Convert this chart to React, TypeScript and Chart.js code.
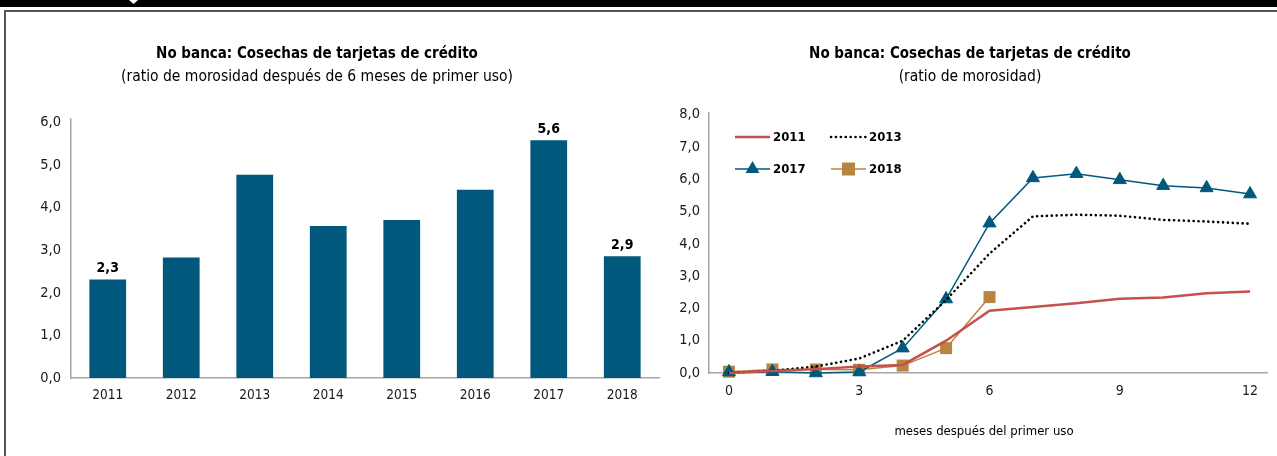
import React, { useEffect, useRef } from "react";
import { Chart, registerables } from "chart.js";

Chart.register(...registerables);

// ---------- data ----------
const barCategories = ["2011", "2012", "2013", "2014", "2015", "2016", "2017", "2018"];
const barValues = [2.31, 2.83, 4.77, 3.57, 3.71, 4.42, 5.58, 2.86];
const barLabelShown = [true, false, false, false, false, false, true, true];
const barYTicks = [0, 1, 2, 3, 4, 5, 6];

const months = [0, 1, 2, 3, 4, 5, 6, 7, 8, 9, 10, 11, 12];
const series2011 = [0.0, 0.06, 0.12, 0.2, 0.25, 1.0, 1.93, 2.04, 2.16, 2.3, 2.34, 2.47, 2.52];
const series2013 = [0.0, 0.07, 0.2, 0.45, 1.0, 2.26, 3.7, 4.85, 4.9, 4.87, 4.74, 4.69, 4.62];
const series2017 = [0.03, 0.04, 0.0, 0.03, 0.77, 2.29, 4.64, 6.04, 6.17, 5.98, 5.8, 5.73, 5.54];
const series2018 = [0.04, 0.11, 0.11, 0.1, 0.23, 0.77, 2.35];
const lineYTicks = [0, 1, 2, 3, 4, 5, 6, 7, 8];
const lineXTicks = [0, 3, 6, 9, 12];

const leftTitle = "No banca: Cosechas de tarjetas de crédito";
const leftSubtitle = "(ratio de morosidad después de 6 meses de primer uso)";
const rightTitle = "No banca: Cosechas de tarjetas de crédito";
const rightSubtitle = "(ratio de morosidad)";
const xAxisTitle = "meses después del primer uso";

// ---------- styles ----------
const FONT = "'DejaVu Sans Condensed', 'Liberation Sans Narrow', sans-serif";
const BLUE = "#00587c";
const RED = "#c4514d";
const GOLD = "#b8843f";
const AXIS = "#a6a6a6";
const TEXT = "#1a1a1a";

const fmt = (v: number) => v.toFixed(1).replace(".", ",");

const barLabelPlugin = {
  id: "barLabels",
  afterDatasetsDraw(chart: any) {
    const ctx = chart.ctx;
    const meta = chart.getDatasetMeta(0);
    ctx.save();
    ctx.font = `bold 14px ${FONT}`;
    ctx.fillStyle = "#000";
    ctx.textAlign = "center";
    ctx.textBaseline = "bottom";
    meta.data.forEach((el: any, i: number) => {
      if (!barLabelShown[i]) return;
      ctx.fillText(fmt(barValues[i]), el.x, el.y - 4);
    });
    ctx.restore();
  },
};

const legendLayout = [
  { col: 0, row: 0 },
  { col: 1, row: 0 },
  { col: 0, row: 1 },
  { col: 1, row: 1 },
];

const lineLegendPlugin = {
  id: "lineLegend",
  afterDraw(chart: any) {
    const ctx = chart.ctx;
    const area = chart.chartArea;
    ctx.save();
    chart.data.datasets.forEach((ds: any, i: number) => {
      const pos = legendLayout[i];
      const x0 = area.left + 26 + pos.col * 96;
      const x1 = x0 + 35;
      const y = area.top + 24 + pos.row * 32;
      ctx.beginPath();
      ctx.strokeStyle = ds.borderColor;
      ctx.lineWidth = ds.borderWidth;
      ctx.lineCap = ds.borderCapStyle || "butt";
      ctx.setLineDash(ds.borderDash || []);
      ctx.moveTo(x0, y);
      ctx.lineTo(x1, y);
      ctx.stroke();
      ctx.setLineDash([]);
      const cx = (x0 + x1) / 2;
      ctx.fillStyle = ds.pointBackgroundColor || ds.borderColor;
      if (ds.pointStyle === "triangle") {
        const r = 8;
        ctx.beginPath();
        ctx.moveTo(cx, y - r);
        ctx.lineTo(cx + r * 0.866, y + r / 2);
        ctx.lineTo(cx - r * 0.866, y + r / 2);
        ctx.closePath();
        ctx.fill();
      } else if (ds.pointStyle === "rect") {
        const s = 6.5;
        ctx.fillRect(cx - s, y - s, 2 * s, 2 * s);
      }
      ctx.font = `bold 13px ${FONT}`;
      ctx.fillStyle = "#000";
      ctx.textAlign = "left";
      ctx.textBaseline = "middle";
      ctx.fillText(ds.label, x1 + 3, y + 1);
    });
    ctx.restore();
  },
};

function BarChart() {
  const ref = useRef<HTMLCanvasElement>(null);
  useEffect(() => {
    const chart = new Chart(ref.current!, {
      type: "bar",
      data: {
        labels: barCategories,
        datasets: [
          {
            data: barValues,
            backgroundColor: BLUE,
            barPercentage: 0.5,
            categoryPercentage: 1.0,
          },
        ],
      },
      options: {
        animation: false,
        responsive: false,
        maintainAspectRatio: false,
        layout: { padding: { left: 31, right: 6, top: 119, bottom: 48 } },
        plugins: { legend: { display: false }, tooltip: { enabled: false }, title: { display: false } },
        scales: {
          x: {
            grid: { display: false, drawTicks: false },
            border: { color: AXIS, width: 1.5 },
            ticks: { color: TEXT, font: { size: 13.5, family: FONT }, padding: 9 },
            afterFit: (s: any) => {
              s.height = 30;
            },
          },
          y: {
            min: 0,
            max: 6.08,
            grid: { display: false, drawTicks: false },
            border: { color: AXIS, width: 1.5 },
            ticks: {
              color: TEXT,
              font: { size: 14.5, family: FONT },
              padding: 10,
              callback: (v: any) => fmt(Number(v)),
            },
            afterBuildTicks: (s: any) => {
              s.ticks = barYTicks.map((v) => ({ value: v }));
            },
            afterFit: (s: any) => {
              s.width = 40;
            },
          },
        },
      },
      plugins: [barLabelPlugin],
    });
    return () => chart.destroy();
  }, []);
  return <canvas ref={ref} width={665} height={456} style={{ width: 665, height: 456, display: "block" }} />;
}

function LineChart() {
  const ref = useRef<HTMLCanvasElement>(null);
  useEffect(() => {
    const toXY = (arr: number[]) => arr.map((v, i) => ({ x: months[i], y: v }));
    const chart = new Chart(ref.current!, {
      type: "line",
      data: {
        datasets: [
          {
            label: "2011",
            data: toXY(series2011),
            borderColor: RED,
            borderWidth: 2.5,
            pointRadius: 0,
            fill: false,
            clip: false,
          },
          {
            label: "2013",
            data: toXY(series2013),
            borderColor: "#000",
            borderWidth: 2.6,
            borderDash: [0.1, 4.8],
            borderCapStyle: "round",
            pointRadius: 0,
            fill: false,
            clip: false,
          },
          {
            label: "2017",
            data: toXY(series2017),
            borderColor: BLUE,
            borderWidth: 1.5,
            pointStyle: "triangle",
            pointRadius: 7.5,
            pointBackgroundColor: BLUE,
            pointBorderColor: BLUE,
            pointBorderWidth: 1,
            fill: false,
            clip: false,
          },
          {
            label: "2018",
            data: toXY(series2018),
            borderColor: GOLD,
            borderWidth: 1.5,
            pointStyle: "rect",
            pointRadius: 8.5,
            pointBackgroundColor: GOLD,
            pointBorderColor: GOLD,
            pointBorderWidth: 0,
            fill: false,
            clip: false,
          },
        ] as any,
      },
      options: {
        animation: false,
        responsive: false,
        maintainAspectRatio: false,
        layout: { padding: { left: 14, right: 10, top: 113, bottom: 43 } },
        plugins: { legend: { display: false }, tooltip: { enabled: false }, title: { display: false } },
        scales: {
          x: {
            type: "linear",
            min: -0.46,
            max: 12.39,
            grid: { display: false, drawTicks: false },
            border: { color: AXIS, width: 1.5 },
            ticks: { color: TEXT, font: { size: 14, family: FONT }, padding: 10, callback: (v: any) => String(v) },
            afterBuildTicks: (s: any) => {
              s.ticks = lineXTicks.map((v) => ({ value: v }));
            },
            afterFit: (s: any) => {
              s.height = 40;
            },
          },
          y: {
            min: 0,
            max: 8.05,
            grid: { display: false, drawTicks: false },
            border: { color: AXIS, width: 1.5 },
            ticks: {
              color: TEXT,
              font: { size: 14.5, family: FONT },
              padding: 9,
              callback: (v: any) => fmt(Number(v)),
            },
            afterBuildTicks: (s: any) => {
              s.ticks = lineYTicks.map((v) => ({ value: v }));
            },
            afterFit: (s: any) => {
              s.width = 30;
            },
          },
        },
      },
      plugins: [lineLegendPlugin],
    });
    return () => chart.destroy();
  }, []);
  return <canvas ref={ref} width={612} height={456} style={{ width: 612, height: 456, display: "block" }} />;
}

const titleStyle = (cx: number, y: number, bold: boolean, size: number): React.CSSProperties => ({
  position: "absolute",
  left: cx - 300,
  width: 600,
  top: y,
  textAlign: "center",
  fontFamily: FONT,
  fontWeight: bold ? "bold" : "normal",
  fontSize: size,
  lineHeight: "20px",
  color: "#000",
  whiteSpace: "nowrap",
});

export default function App() {
  return (
    <div
      style={{
        position: "absolute",
        left: 0,
        top: 0,
        width: 1277,
        height: 456,
        background: "#fff",
        overflow: "hidden",
        fontFamily: FONT,
      }}
    >
      <div style={{ position: "absolute", left: 0, top: 0, width: 1277, height: 7, background: "#000" }} />
      <div
        style={{
          position: "absolute",
          left: 129,
          top: 0,
          width: 9,
          height: 4,
          background: "#fff",
          clipPath: "polygon(0 0, 100% 0, 50% 100%)",
        }}
      />
      <div style={{ position: "absolute", left: 4, top: 10, width: 1273, height: 2, background: "#555" }} />
      <div style={{ position: "absolute", left: 4, top: 10, width: 2, height: 446, background: "#555" }} />

      <div style={{ position: "absolute", left: 0, top: 0 }}>
        <BarChart />
      </div>
      <div style={{ position: "absolute", left: 665, top: 0 }}>
        <LineChart />
      </div>

      <div style={titleStyle(317, 43, true, 15)}>{leftTitle}</div>
      <div style={titleStyle(317, 66, false, 15.5)}>{leftSubtitle}</div>
      <div style={titleStyle(970, 43, true, 15)}>{rightTitle}</div>
      <div style={titleStyle(970, 66, false, 15.5)}>{rightSubtitle}</div>
      <div style={titleStyle(984, 421, false, 13)}>{xAxisTitle}</div>
    </div>
  );
}
